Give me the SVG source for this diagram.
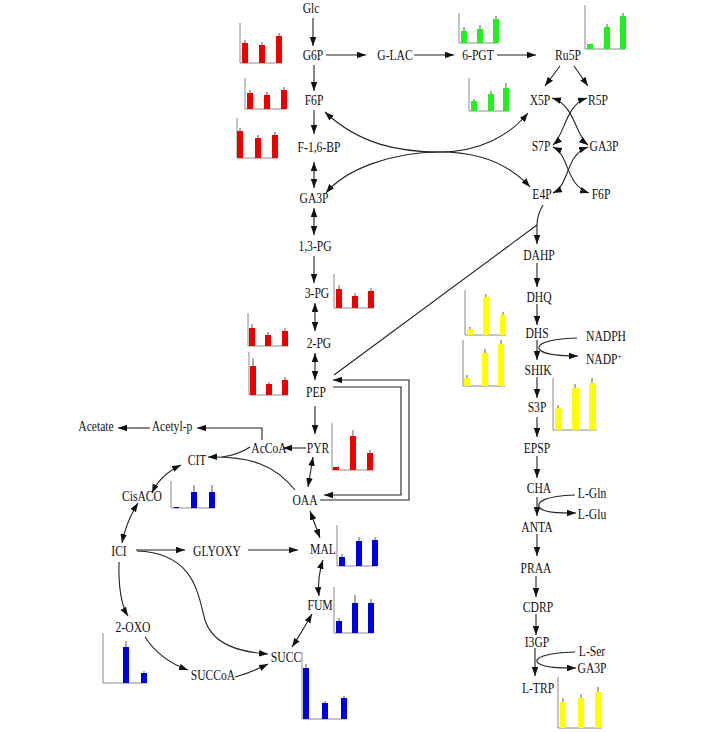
<svg xmlns="http://www.w3.org/2000/svg" width="704" height="732" viewBox="0 0 704 732">
<style>
.t{font-family:"Liberation Serif","Times New Roman",serif;font-size:14.5px;fill:#111;text-anchor:middle}
.c{fill:none;stroke:#222;stroke-width:1.1}
.e{marker-end:url(#ah)}
.b{marker-start:url(#ah);marker-end:url(#ah)}
.ax{fill:none;stroke:#8a8a8a;stroke-width:1}
.er{stroke:#333;stroke-width:0.8}
.r rect{fill:#ee0000}
.g rect{fill:#22ee22}
.u rect{fill:#0000dd}
.y rect{fill:#ffff00}
</style>
<defs>
<marker id="ah" markerUnits="userSpaceOnUse" markerWidth="10" markerHeight="7" refX="9" refY="3.25" orient="auto-start-reverse">
<path d="M0,0 L9,3.25 L0,6.5 z" fill="#111"/>
</marker>
</defs>
<rect width="704" height="732" fill="#fff"/>

<g id="connectors">
<path class="c e" d="M313,18 V46"/>
<path class="c e" d="M326,55 H366"/>
<path class="c e" d="M414,55 H454"/>
<path class="c e" d="M497,55 H536"/>
<path class="c e" d="M314,65 V91"/>
<path class="c e" d="M314,110 V134"/>
<path class="c b" d="M314,162 V188"/>
<path class="c b" d="M314,208 V235"/>
<path class="c e" d="M314,256 V283"/>
<path class="c b" d="M315,303 V331"/>
<path class="c b" d="M315,353 V380"/>
<path class="c e" d="M315,406 V434"/>
<path class="c e" d="M306,448 H283"/>
<path class="c e" d="M262,440 V428 H197"/>
<path class="c e" d="M150,428 H118"/>
<path class="c b" d="M313,457 L308,487"/>
<path class="c b" d="M310,511 L320,538"/>
<path class="c b" d="M323,560 Q317,578 319,596"/>
<path class="c b" d="M312,614 Q300,635 292,647"/>
<path class="c e" d="M295,490 C275,465 250,456 208,457"/>
<path class="c" d="M250,447 Q238,455 222,457"/>
<path class="c b" d="M181,465 Q160,475 152,493"/>
<path class="c b" d="M138,503 Q126,522 122,543"/>
<path class="c e" d="M136,550 H185"/>
<path class="c e" d="M248,550 H298"/>
<path class="c e" d="M119,562 Q118,600 128,616"/>
<path class="c e" d="M137,551 C195,553 198,595 205,620 C213,645 240,652 268,654"/>
<path class="c e" d="M145,637 Q160,660 188,670"/>
<path class="c e" d="M235,677 Q250,673 268,664"/>
<path class="c e" d="M333,387 H401 V495 H324"/>
<path class="c e" d="M320,500 H409 V380 H333"/>
<path class="c e" d="M543,205 Q537,215 537,225 V244"/>
<path class="c" d="M537,225 L334,375"/>
<path class="c e" d="M537,263 V287"/>
<path class="c e" d="M537,304 V325"/>
<path class="c e" d="M537,340 V360"/>
<path class="c e" d="M577,338 C545,339 535,345 540,350 C545,355 560,356 578,356"/>
<path class="c e" d="M537,377 V398"/>
<path class="c e" d="M537,417 V437"/>
<path class="c e" d="M537,456 V478"/>
<path class="c e" d="M575,495 C545,496 535,502 540,508 C545,513 560,513 576,513"/>
<path class="c e" d="M537,497 V516"/>
<path class="c e" d="M537,534 V556"/>
<path class="c e" d="M536,576 V597"/>
<path class="c e" d="M536,614 V635"/>
<path class="c e" d="M575,652 C545,653 533,658 538,663 C545,668 560,668 576,668"/>
<path class="c e" d="M535,648 V676"/>
<path class="c e" d="M560,66 L545,86"/>
<path class="c e" d="M574,66 L588,86"/>
<path class="c b" d="M552,98 C575,105 575,135 588,145"/>
<path class="c b" d="M587,98 C565,105 565,135 553,145"/>
<path class="c b" d="M553,147 C570,155 565,185 589,193"/>
<path class="c b" d="M588,147 C565,155 570,185 553,193"/>
<path class="c b" d="M325,112 C360,145 400,152 440,152 C480,152 510,165 530,187"/>
<path class="c b" d="M326,193 C345,170 390,152 440,152 C480,152 510,135 528,113"/>
</g>

<g id="n-glc" transform="translate(311,13) scale(0.8,1)"><text class="t">Glc</text></g>
<g id="n-g6p" transform="translate(313,60) scale(0.8,1)"><text class="t">G6P</text></g>
<g id="n-glac" transform="translate(395,60) scale(0.8,1)"><text class="t">G-LAC</text></g>
<g id="n-6pgt" transform="translate(478,60) scale(0.8,1)"><text class="t">6-PGT</text></g>
<g id="n-ru5p" transform="translate(568,60) scale(0.8,1)"><text class="t">Ru5P</text></g>
<g id="n-f6p" transform="translate(314,105) scale(0.8,1)"><text class="t">F6P</text></g>
<g id="n-x5p" transform="translate(540,105) scale(0.8,1)"><text class="t">X5P</text></g>
<g id="n-r5p" transform="translate(598,105) scale(0.8,1)"><text class="t">R5P</text></g>
<g id="n-f16bp" transform="translate(319,152) scale(0.8,1)"><text class="t">F-1,6-BP</text></g>
<g id="n-s7p" transform="translate(541,151) scale(0.8,1)"><text class="t">S7P</text></g>
<g id="n-ga3p-ppp" transform="translate(604,151) scale(0.8,1)"><text class="t">GA3P</text></g>
<g id="n-e4p" transform="translate(542,199) scale(0.8,1)"><text class="t">E4P</text></g>
<g id="n-f6p-ppp" transform="translate(601,199) scale(0.8,1)"><text class="t">F6P</text></g>
<g id="n-ga3p" transform="translate(314,203) scale(0.8,1)"><text class="t">GA3P</text></g>
<g id="n-13pg" transform="translate(315,251) scale(0.8,1)"><text class="t">1,3-PG</text></g>
<g id="n-3pg" transform="translate(317,298) scale(0.8,1)"><text class="t">3-PG</text></g>
<g id="n-2pg" transform="translate(319,348) scale(0.8,1)"><text class="t">2-PG</text></g>
<g id="n-pep" transform="translate(316,397) scale(0.8,1)"><text class="t">PEP</text></g>
<g id="n-acetate" transform="translate(96,431) scale(0.8,1)"><text class="t">Acetate</text></g>
<g id="n-acetylp" transform="translate(172,431) scale(0.8,1)"><text class="t">Acetyl-p</text></g>
<g id="n-accoa" transform="translate(269,453) scale(0.8,1)"><text class="t">AcCoA</text></g>
<g id="n-pyr" transform="translate(318,453) scale(0.8,1)"><text class="t">PYR</text></g>
<g id="n-cit" transform="translate(197,465) scale(0.8,1)"><text class="t">CIT</text></g>
<g id="n-cisaco" transform="translate(142,501) scale(0.8,1)"><text class="t">CisACO</text></g>
<g id="n-oaa" transform="translate(305,505) scale(0.8,1)"><text class="t">OAA</text></g>
<g id="n-ici" transform="translate(119,556) scale(0.8,1)"><text class="t">ICI</text></g>
<g id="n-glyoxy" transform="translate(217,556) scale(0.8,1)"><text class="t">GLYOXY</text></g>
<g id="n-mal" transform="translate(323,554) scale(0.8,1)"><text class="t">MAL</text></g>
<g id="n-fum" transform="translate(320,610) scale(0.8,1)"><text class="t">FUM</text></g>
<g id="n-2oxo" transform="translate(133,632) scale(0.8,1)"><text class="t">2-OXO</text></g>
<g id="n-succ" transform="translate(286,662) scale(0.8,1)"><text class="t">SUCC</text></g>
<g id="n-succoa" transform="translate(213,680) scale(0.8,1)"><text class="t">SUCCoA</text></g>
<g id="n-dahp" transform="translate(539,260) scale(0.8,1)"><text class="t">DAHP</text></g>
<g id="n-dhq" transform="translate(539,302) scale(0.8,1)"><text class="t">DHQ</text></g>
<g id="n-dhs" transform="translate(537,338) scale(0.8,1)"><text class="t">DHS</text></g>
<g id="n-nadph" transform="translate(606,341) scale(0.8,1)"><text class="t">NADPH</text></g>
<g id="n-shik" transform="translate(538,375) scale(0.8,1)"><text class="t">SHIK</text></g>
<g id="n-nadp" transform="translate(586,364) scale(0.8,1)"><text class="t" style="text-anchor:start">NADP<tspan font-size="9" dy="-5">+</tspan></text></g>
<g id="n-s3p" transform="translate(537,412) scale(0.8,1)"><text class="t">S3P</text></g>
<g id="n-epsp" transform="translate(537,453) scale(0.8,1)"><text class="t">EPSP</text></g>
<g id="n-cha" transform="translate(539,493) scale(0.8,1)"><text class="t">CHA</text></g>
<g id="n-lgln" transform="translate(592,498) scale(0.8,1)"><text class="t">L-Gln</text></g>
<g id="n-lglu" transform="translate(592,519) scale(0.8,1)"><text class="t">L-Glu</text></g>
<g id="n-anta" transform="translate(537,532) scale(0.8,1)"><text class="t">ANTA</text></g>
<g id="n-praa" transform="translate(536,573) scale(0.8,1)"><text class="t">PRAA</text></g>
<g id="n-cdrp" transform="translate(538,612) scale(0.8,1)"><text class="t">CDRP</text></g>
<g id="n-i3gp" transform="translate(537,647) scale(0.8,1)"><text class="t">I3GP</text></g>
<g id="n-lser" transform="translate(592,656) scale(0.8,1)"><text class="t">L-Ser</text></g>
<g id="n-ga3p-trp" transform="translate(592,673) scale(0.8,1)"><text class="t">GA3P</text></g>
<g id="n-ltrp" transform="translate(538,693) scale(0.8,1)"><text class="t">L-TRP</text></g>

<g id="chart-g6p" class="r">
<path class="ax" d="M240,23 V63 H282"/>
<rect x="242" y="43" width="6" height="20"/><rect x="259" y="45" width="6" height="18"/><rect x="276" y="36" width="6" height="27"/>
<path class="er" d="M245,43 v-3 M262,45 v-3 M279,36 v-3"/>
</g>
<g id="chart-f6p" class="r">
<path class="ax" d="M245,78 V109 H286"/>
<rect x="247" y="93" width="6" height="16"/><rect x="264" y="95" width="6" height="14"/><rect x="281" y="90" width="6" height="19"/>
<path class="er" d="M250,93 v-3 M267,95 v-3 M284,90 v-3"/>
</g>
<g id="chart-f16bp" class="r">
<path class="ax" d="M237,118 V158 H277"/>
<rect x="237" y="131" width="6" height="27"/><rect x="255" y="138" width="6" height="20"/><rect x="272" y="135" width="6" height="23"/>
<path class="er" d="M240,131 v-3 M258,138 v-3 M275,135 v-3"/>
</g>
<g id="chart-3pg" class="r">
<path class="ax" d="M334,274 V308 H374"/>
<rect x="336" y="289" width="6" height="19"/><rect x="352" y="296" width="6" height="12"/><rect x="368" y="291" width="6" height="17"/>
<path class="er" d="M339,289 v-4 M355,296 v-3 M371,291 v-3"/>
</g>
<g id="chart-2pg" class="r">
<path class="ax" d="M248,313 V346 H288"/>
<rect x="249" y="328" width="6" height="18"/><rect x="265" y="335" width="6" height="11"/><rect x="282" y="331" width="6" height="15"/>
<path class="er" d="M252,328 v-4 M268,335 v-3 M285,331 v-3"/>
</g>
<g id="chart-pep" class="r">
<path class="ax" d="M249,352 V395 H288"/>
<rect x="250" y="366" width="6" height="29"/><rect x="266" y="384" width="6" height="11"/><rect x="282" y="380" width="6" height="15"/>
<path class="er" d="M253,366 v-8 M269,384 v-2 M285,380 v-3"/>
</g>
<g id="chart-pyr" class="r">
<path class="ax" d="M332,423 V470 H373"/>
<rect x="333" y="467" width="6" height="3"/><rect x="350" y="436" width="6" height="34"/><rect x="367" y="453" width="6" height="17"/>
<path class="er" d="M353,436 v-6 M370,453 v-3"/>
</g>
<g id="chart-6pgt" class="g">
<path class="ax" d="M459,13 V43 H498"/>
<rect x="461" y="31" width="6" height="12"/><rect x="477" y="29" width="6" height="14"/><rect x="493" y="19" width="6" height="24"/>
<path class="er" d="M464,31 v-4 M480,29 v-4 M496,19 v-3"/>
</g>
<g id="chart-ru5p" class="g">
<path class="ax" d="M585,5 V49 H625"/>
<rect x="587" y="44" width="6" height="5"/><rect x="604" y="27" width="6" height="22"/><rect x="620" y="16" width="6" height="33"/>
<path class="er" d="M607,27 v-3 M623,16 v-3"/>
</g>
<g id="chart-x5p" class="g">
<path class="ax" d="M469,78 V111 H509"/>
<rect x="471" y="101" width="6" height="10"/><rect x="488" y="94" width="6" height="17"/><rect x="503" y="88" width="6" height="23"/>
<path class="er" d="M474,101 v-2 M491,94 v-3 M506,88 v-5"/>
</g>
<g id="chart-cit" class="u">
<path class="ax" d="M171,481 V508 H215"/>
<rect x="174" y="507" width="5" height="1"/><rect x="191" y="492" width="6" height="16"/><rect x="209" y="492" width="6" height="16"/>
<path class="er" d="M194,492 v-7 M212,492 v-7"/>
</g>
<g id="chart-mal" class="u">
<path class="ax" d="M337,525 V566 H377"/>
<rect x="339" y="557" width="6" height="9"/><rect x="356" y="541" width="6" height="25"/><rect x="372" y="540" width="6" height="26"/>
<path class="er" d="M342,557 v-3 M359,541 v-4 M375,540 v-3"/>
</g>
<g id="chart-fum" class="u">
<path class="ax" d="M334,587 V633 H374"/>
<rect x="336" y="621" width="6" height="12"/><rect x="352" y="603" width="6" height="30"/><rect x="368" y="603" width="6" height="30"/>
<path class="er" d="M339,621 v-3 M355,603 v-8 M371,603 v-4"/>
</g>
<g id="chart-2oxo" class="u">
<path class="ax" d="M103,633 V683 H147"/>
<rect x="123" y="647" width="6" height="36"/><rect x="141" y="673" width="6" height="10"/>
<path class="er" d="M126,647 v-6 M144,673 v-2"/>
</g>
<g id="chart-succ" class="u">
<path class="ax" d="M302,652 V719 H346"/>
<rect x="303" y="668" width="6" height="51"/><rect x="322" y="703" width="6" height="16"/><rect x="341" y="698" width="6" height="21"/>
<path class="er" d="M306,668 v-4 M325,703 v-2 M344,698 v-2"/>
</g>
<g id="chart-dhq" class="y">
<path class="ax" d="M465,290 V335 H506"/>
<rect x="467" y="329" width="6" height="6"/><rect x="483" y="297" width="6" height="38"/><rect x="500" y="315" width="6" height="20"/>
<path class="er" d="M470,329 v-2 M486,297 v-3 M503,315 v-3"/>
</g>
<g id="chart-shik" class="y">
<path class="ax" d="M463,340 V386 H505"/>
<rect x="464" y="378" width="6" height="8"/><rect x="482" y="353" width="6" height="33"/><rect x="498" y="344" width="6" height="42"/>
<path class="er" d="M467,378 v-3 M485,353 v-4 M501,344 v-4"/>
</g>
<g id="chart-s3p" class="y">
<path class="ax" d="M553,378 V430 H597"/>
<rect x="555" y="408" width="7" height="22"/><rect x="572" y="388" width="7" height="42"/><rect x="589" y="383" width="7" height="47"/>
<path class="er" d="M558,408 v-3 M575,388 v-4 M592,383 v-5"/>
</g>
<g id="chart-ltrp" class="y">
<path class="ax" d="M558,677 V728 H602"/>
<rect x="560" y="702" width="6" height="26"/><rect x="578" y="698" width="6" height="30"/><rect x="595" y="692" width="6" height="36"/>
<path class="er" d="M563,702 v-4 M581,698 v-4 M598,692 v-5"/>
</g>
</svg>
